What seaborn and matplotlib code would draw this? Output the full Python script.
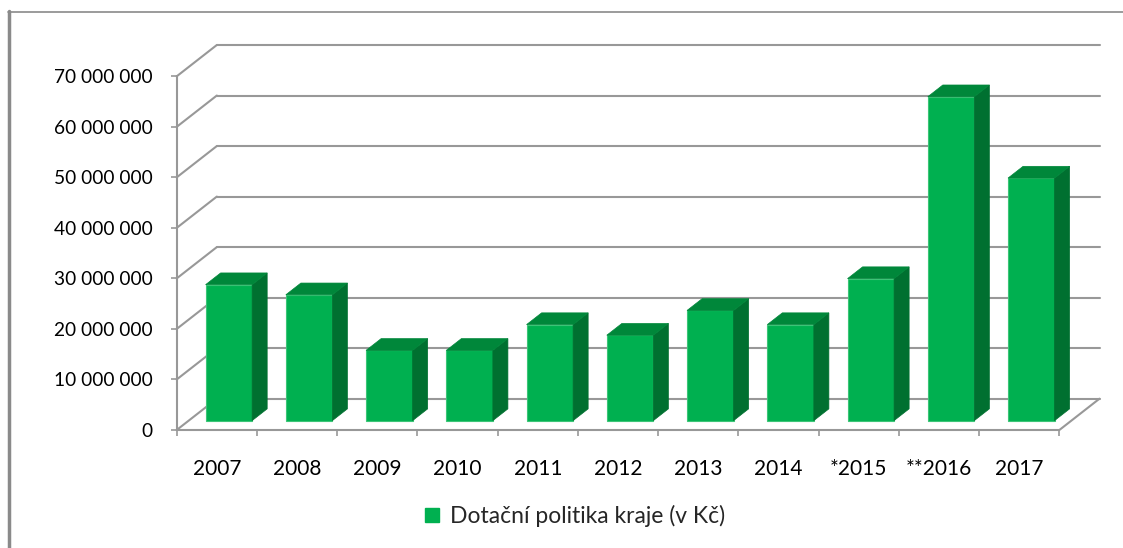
import matplotlib
matplotlib.use("Agg")
import matplotlib.pyplot as plt
from matplotlib.patches import Polygon, Patch
from matplotlib.lines import Line2D
import seaborn as sns
import pandas as pd

# ---- data ----
years = ["2007", "2008", "2009", "2010", "2011", "2012", "2013", "2014", "*2015", "**2016", "2017"]
values = [26.9e6, 24.9e6, 13.9e6, 13.9e6, 19.0e6, 16.9e6, 21.8e6, 19.0e6, 28.1e6, 64.1e6, 48.0e6]
series_name = "Dotační politika kraje (v Kč)"
y_ticks = [0, 10e6, 20e6, 30e6, 40e6, 50e6, 60e6, 70e6]

# ---- style ----
sns.set_theme(style="white")
plt.rcParams['font.family'] = ['Lato', 'DejaVu Sans']

FRONT = "#00B050"
TOP = "#00873A"
SIDE = "#007030"
GRID = "#989898"

W, H = 1123, 548
fig = plt.figure(figsize=(W / 100, H / 100), dpi=100)
# axes in pixel geometry
L, R, B, T = 176.7, 1099.5, 430, 45
ax = fig.add_axes([L / W, 1 - B / H, (R - L) / W, (B - T) / H])

DX = 0.5        # depth in category units
DY = 6.2e6      # depth in value units
D0 = 0.3        # bar front depth fraction
BD = 0.375      # bar depth fraction
n = len(years)

df = pd.DataFrame({"year": years, "value": values})
sns.barplot(data=df, x="year", y="value", color=FRONT, saturation=1, width=0.58,
            edgecolor="#3cc577", linewidth=0.8, ax=ax, zorder=3, label=series_name)

# convert front faces into 3D-looking bars
for p in list(ax.patches):
    x0, w, h = p.get_x(), p.get_width(), p.get_height()
    x0 = x0 + D0 * DX
    y0 = D0 * DY
    p.set_x(x0)
    p.set_y(y0)
    x1 = x0 + w
    y1 = y0 + h
    ddx, ddy = BD * DX, BD * DY
    side = Polygon([(x1, y0), (x1 + ddx, y0 + ddy), (x1 + ddx, y1 + ddy), (x1, y1)],
                   closed=True, facecolor=SIDE, edgecolor=SIDE, lw=0.5, zorder=3)
    top = Polygon([(x0, y1), (x1, y1), (x1 + ddx, y1 + ddy), (x0 + ddx, y1 + ddy)],
                  closed=True, facecolor=TOP, edgecolor=TOP, lw=0.5, zorder=3)
    ax.add_patch(side)
    ax.add_patch(top)

xl, xr = -0.5, n - 0.5
# back wall gridlines and left-wall diagonals
for v in y_ticks:
    ax.plot([xl + DX, xr + DX], [v + DY, v + DY], color=GRID, lw=1.5, zorder=1, clip_on=False)
    ax.plot([xl, xl + DX], [v, v + DY], color=GRID, lw=1.5, zorder=1, clip_on=False)
# floor right edge
ax.plot([xr, xr + DX], [0, DY], color=GRID, lw=1.5, zorder=1, clip_on=False)
# front axes
ax.plot([xl, xr], [0, 0], color=GRID, lw=1.5, zorder=2, clip_on=False)
ax.plot([xl, xl], [0, 70e6], color=GRID, lw=1.5, zorder=2, clip_on=False)

ax.set_xlim(xl, xr + DX)
ax.set_ylim(0, 70e6 + DY)
for s in ax.spines.values():
    s.set_visible(False)

ax.set_yticks(y_ticks)
ax.set_yticklabels([f"{int(v):,}".replace(",", " ") for v in y_ticks])
ax.tick_params(axis="y", direction="out", length=4.5, width=1.2, color=GRID, pad=13,
               labelsize=13.8, labelcolor="black", left=True)
ax.set_xticks([i - 0.5 for i in range(n + 1)])
ax.set_xticklabels([""] * (n + 1))
ax.tick_params(axis="x", which="major", direction="out", length=4.5, width=1.2, color=GRID, bottom=True)
ax.set_xticks(list(range(n)), minor=True)
ax.set_xticklabels(years, minor=True)
ax.tick_params(axis="x", which="minor", length=0, pad=21, labelsize=15, labelcolor="black")
ax.set_xlabel("")
ax.set_ylabel("")
ax.grid(False)
if ax.get_legend() is not None:
    ax.get_legend().remove()

handle = Patch(facecolor=FRONT, edgecolor=FRONT)
fig.legend([handle], [series_name], loc="center", bbox_to_anchor=(575 / W, 1 - 516 / H),
           frameon=False, fontsize=16.5, handlelength=0.62, handleheight=0.62, handletextpad=0.45)

# outer chart border (left and top)
fig.add_artist(Line2D([9 / W, 9 / W], [0, 1 - 11 / H], transform=fig.transFigure, color="#8a8a8a", lw=2.5))
fig.add_artist(Line2D([8 / W, 1], [1 - 11.5 / H, 1 - 11.5 / H], transform=fig.transFigure, color="#8a8a8a", lw=1.2))

fig.savefig("out.png", dpi=100, facecolor="white")
